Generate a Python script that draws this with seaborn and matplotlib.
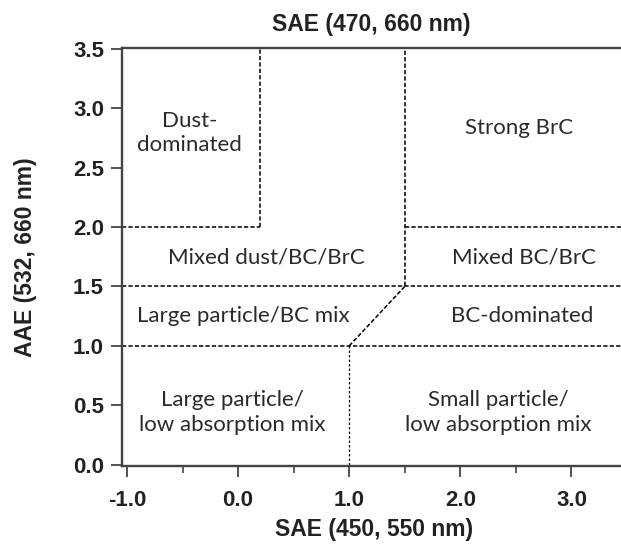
import numpy as np
import pandas as pd
import matplotlib
matplotlib.use("Agg")
import matplotlib.pyplot as plt
from matplotlib.ticker import MultipleLocator, FormatStrFormatter
import seaborn as sns

# Classification boundaries (SAE on x, AAE on y)
seg_x0 = [-1.045, 0.2, 1.5, 1.5, -1.045, -1.045, 1.0, 1.0]
seg_x1 = [0.2, 0.2, 1.5, 3.5, 3.5, 3.5, 1.5, 1.0]
seg_y0 = [2.0, 2.0, 1.5, 2.0, 1.5, 1.0, 1.0, 0.0]
seg_y1 = [2.0, 3.505, 3.505, 2.0, 1.5, 1.0, 1.5, 1.0]
seg_kind = ["dash", "dash", "dash", "dash", "dash", "dash", "dash", "dot"]

# Region names and their anchor points
region_text = [
    "Dust-\ndominated",
    "Strong BrC",
    "Mixed dust/BC/BrC",
    "Mixed BC/BrC",
    "Large particle/BC mix",
    "BC-dominated",
    "Large particle/\nlow absorption mix",
    "Small particle/\nlow absorption mix",
]
region_x = [-0.44, 2.53, 0.25, 2.57, 0.05, 2.56, -0.05, 2.34]
region_y = [2.79, 2.83, 1.745, 1.745, 1.255, 1.25, 0.44, 0.44]

x_label_bottom = "SAE (450, 550 nm)"
x_label_top = "SAE (470, 660 nm)"
y_label = "AAE (532, 660 nm)"

rows = []
for i, (a, b, c, d, k) in enumerate(zip(seg_x0, seg_x1, seg_y0, seg_y1, seg_kind)):
    rows.append({"seg": i, "x": a, "y": c, "kind": k})
    rows.append({"seg": i, "x": b, "y": d, "kind": k})
df = pd.DataFrame(rows)

sns.set_theme(style="ticks")
plt.rcParams["font.family"] = ["Liberation Sans", "DejaVu Sans"]

fig = plt.figure(figsize=(6.21, 5.45), dpi=100)
ax = fig.add_axes([122 / 621, 79 / 545, (627 - 122) / 621, (497 - 79) / 545])

sns.lineplot(data=df[df["kind"] == "dash"], x="x", y="y", units="seg",
             estimator=None, sort=False, color="black", lw=1.1,
             linestyle=(0, (2.8, 1.4)), legend=False, ax=ax)
sns.lineplot(data=df[df["kind"] == "dot"], x="x", y="y", units="seg",
             estimator=None, sort=False, color="black", lw=0.9,
             linestyle=(0, (2.0, 1.6)), legend=False, ax=ax)

for t, x, y in zip(region_text, region_x, region_y):
    ax.text(x, y, t, ha="center", va="center", fontsize=16,
            family=["Lato", "DejaVu Sans"], color="#2a2a2a", linespacing=1.3)

ax.set_xlim(-1.045, 3.5)
ax.set_ylim(-0.01, 3.505)
ax.xaxis.set_major_locator(MultipleLocator(1.0))
ax.xaxis.set_minor_locator(MultipleLocator(0.5))
ax.yaxis.set_major_locator(MultipleLocator(0.5))
ax.xaxis.set_major_formatter(FormatStrFormatter("%.1f"))
ax.yaxis.set_major_formatter(FormatStrFormatter("%.1f"))

ax.tick_params(axis="both", which="major", direction="out", length=8, width=1.3,
               color="#444444", labelsize=16, labelcolor="#222222")
ax.tick_params(axis="x", which="major", pad=9)
ax.tick_params(axis="y", which="major", pad=5)
ax.tick_params(axis="x", which="minor", direction="out", length=5, width=1.2,
               color="#444444")
for lab in ax.get_xticklabels() + ax.get_yticklabels():
    lab.set_fontweight("bold")

for side in ["left", "bottom", "top"]:
    ax.spines[side].set_visible(True)
    ax.spines[side].set_linewidth(1.7)
    ax.spines[side].set_color("#444444")
ax.spines["right"].set_visible(False)

ax.set_xlabel(x_label_bottom, fontsize=16.5, fontweight="bold", color="#222222", labelpad=5)
ax.set_ylabel(y_label, fontsize=16.5, fontweight="bold", color="#222222", labelpad=26)
ax.set_title(x_label_top, fontsize=16.5, fontweight="bold", color="#222222", pad=12,
             x=(371 - 122) / (627 - 122))

fig.savefig("out.png", dpi=100, facecolor="white")
